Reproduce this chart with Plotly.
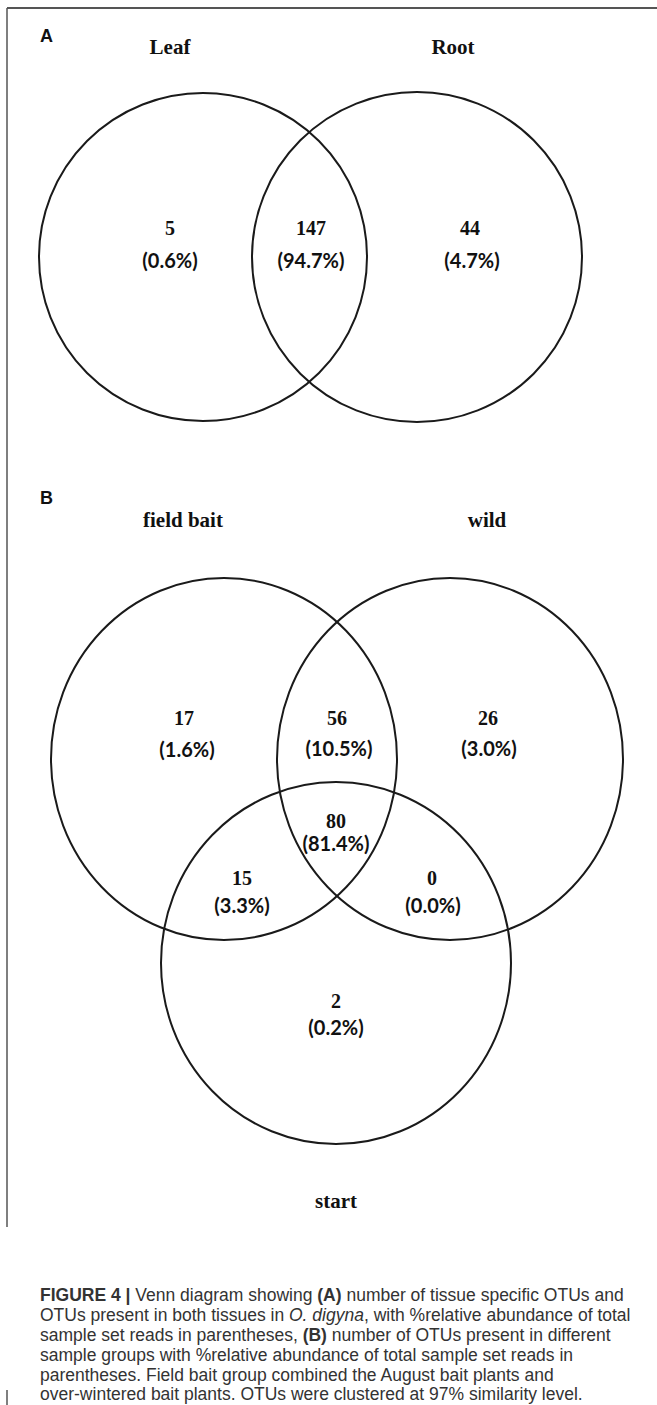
import plotly.graph_objects as go

W, H = 657, 1405

# ---------------- data ----------------
panel_a_sets = ["Leaf", "Root"]
panel_a_counts = [5, 147, 44]            # Leaf only, both, Root only
panel_a_pcts = [0.6, 94.7, 4.7]

panel_b_sets = ["field bait", "wild", "start"]
# field bait only, field bait & wild, wild only, all three, field bait & start, wild & start, start only
panel_b_counts = [17, 56, 26, 80, 15, 0, 2]
panel_b_pcts = [1.6, 10.5, 3.0, 81.4, 3.3, 0.0, 0.2]

panel_letters = ["A", "B"]

caption_lines = [
    "<b>FIGURE 4 |</b> Venn diagram showing <b>(A)</b> number of tissue specific OTUs and",
    "OTUs present in both tissues in <i>O. digyna</i>, with %relative abundance of total",
    "sample set reads in parentheses, <b>(B)</b> number of OTUs present in different",
    "sample groups with %relative abundance of total sample set reads in",
    "parentheses. Field bait group combined the August bait plants and",
    "over-wintered bait plants. OTUs were clustered at 97% similarity level.",
]

# ---------------- layout geometry (pixels, y down) ----------------
a_circles = [(203, 257, 164, 164), (417, 257, 165, 165)]
a_set_label_pos = [(170, 49), (453, 49)]
a_num_pos = [(170, 230), (311, 230), (470, 230)]
a_pct_pos = [(170, 263), (311, 263), (472, 263)]

b_circles = [(224, 759, 173, 181), (450, 759, 173, 181), (336, 963, 175, 181)]
b_set_label_pos = [(183, 522), (487, 522), (336, 1203)]
b_num_pos = [(184, 720), (337, 720), (488, 720), (336, 823), (242, 880), (432, 880), (336, 1003)]
b_pct_pos = [(187, 752), (339, 751), (489, 751), (336, 846), (242, 908), (433, 908), (336, 1030)]

letter_pos = [(46, 36), (46, 498)]
caption_x = 38
caption_y = [1295, 1315, 1335, 1355, 1375, 1394]

SERIF = "Liberation Serif, Times New Roman, serif"
SANS = "Liberation Sans, Arial, sans-serif"
PCT = "Lato, Open Sans, sans-serif"

fig = go.Figure()

shapes = []
for cx, cy, rx, ry in a_circles + b_circles:
    shapes.append(dict(type="circle", xref="x", yref="y",
                       x0=cx - rx, x1=cx + rx, y0=cy - ry, y1=cy + ry,
                       line=dict(color="#1a1a1a", width=2), fillcolor="rgba(0,0,0,0)"))
# frame lines
border = "#555555"
shapes.append(dict(type="line", xref="x", yref="y", x0=7, x1=W, y0=8, y1=8,
                   line=dict(color=border, width=2)))
shapes.append(dict(type="line", xref="x", yref="y", x0=7, x1=7, y0=8, y1=1227,
                   line=dict(color=border, width=1.5)))
shapes.append(dict(type="line", xref="x", yref="y", x0=7, x1=7, y0=1390, y1=H,
                   line=dict(color=border, width=1.5)))

# set labels
set_names = panel_a_sets + panel_b_sets
set_pos = a_set_label_pos + b_set_label_pos
fig.add_trace(go.Scatter(
    x=[p[0] for p in set_pos], y=[p[1] for p in set_pos],
    text=[f"<b>{s}</b>" for s in set_names], mode="text",
    textfont=dict(family=SERIF, size=21, color="#111111"),
    hoverinfo="skip", showlegend=False))

# region counts
counts = panel_a_counts + panel_b_counts
num_pos = a_num_pos + b_num_pos
fig.add_trace(go.Scatter(
    x=[p[0] for p in num_pos], y=[p[1] for p in num_pos],
    text=[f"<b>{c}</b>" for c in counts], mode="text",
    textfont=dict(family=SERIF, size=20, color="#111111"),
    hoverinfo="skip", showlegend=False))

# region percentages
pcts = panel_a_pcts + panel_b_pcts
pct_pos = a_pct_pos + b_pct_pos
fig.add_trace(go.Scatter(
    x=[p[0] for p in pct_pos], y=[p[1] for p in pct_pos],
    text=[f"<b>({v:.1f}%)</b>" for v in pcts], mode="text",
    textfont=dict(family=PCT, size=20, color="#111111"),
    hoverinfo="skip", showlegend=False))

annotations = []
for letter, (x, y) in zip(panel_letters, letter_pos):
    annotations.append(dict(x=x, y=y, xref="x", yref="y", text=f"<b>{letter}</b>",
                            showarrow=False, xanchor="center", yanchor="middle",
                            font=dict(family=SANS, size=18, color="#111111")))
for line, y in zip(caption_lines, caption_y):
    annotations.append(dict(x=caption_x, y=y, xref="x", yref="y", text=line,
                            showarrow=False, xanchor="left", yanchor="middle",
                            font=dict(family=SANS, size=17.5, color="#333333")))

fig.update_layout(
    width=W, height=H,
    margin=dict(l=0, r=0, t=0, b=0),
    paper_bgcolor="white", plot_bgcolor="white",
    xaxis=dict(range=[0, W], visible=False, fixedrange=True),
    yaxis=dict(range=[H, 0], visible=False, fixedrange=True),
    shapes=shapes, annotations=annotations,
)

fig.write_html("out.html", config={"displayModeBar": False},
               post_script="document.body.style.margin='0';document.body.style.overflow='hidden';")
